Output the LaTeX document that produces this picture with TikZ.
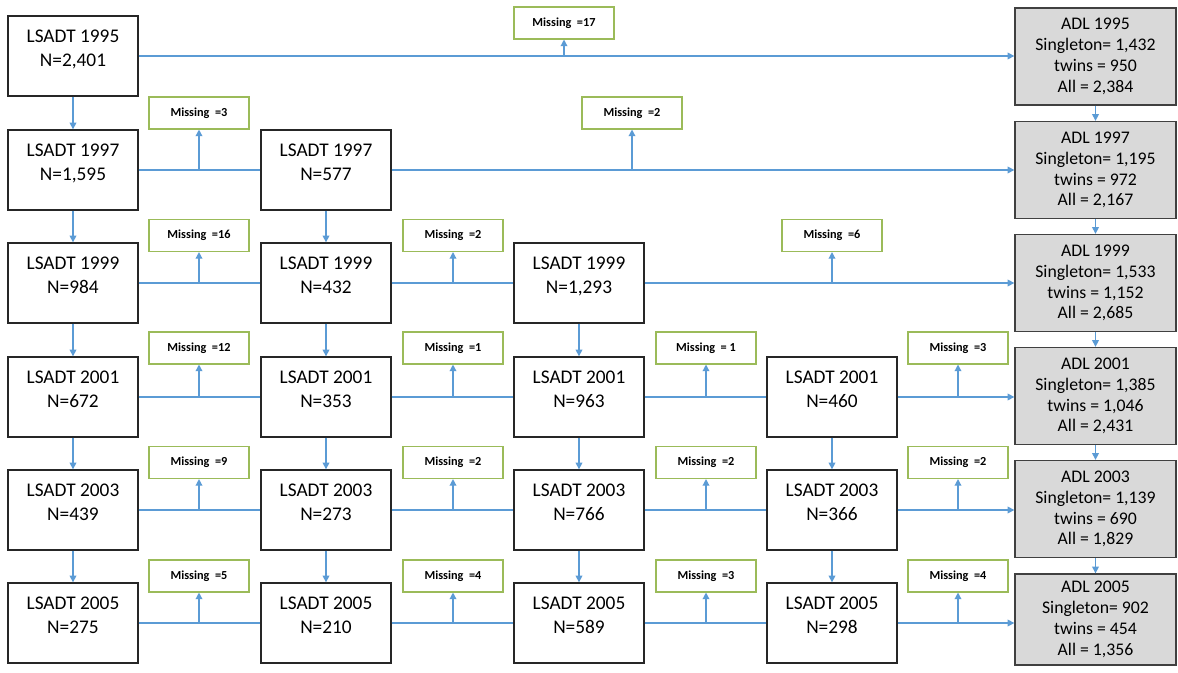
\documentclass[tikz,border=0pt]{standalone}
\usepackage{fontspec}
\setmainfont{Carlito}
\usepackage{tikz}
\usetikzlibrary{arrows.meta,positioning,calc}

\definecolor{lineblue}{HTML}{5B9BD5}
\definecolor{missgreen}{HTML}{9BBB59}
\definecolor{adlgray}{HTML}{D9D9D9}

\begin{document}
\begin{tikzpicture}[x=0.75pt, y=-0.75pt,
    wave/.style={draw=black!85, line width=1pt, fill=white,
        minimum width=97.5pt, minimum height=60pt, align=center,
        font=\fontsize{14.5}{18.2}\selectfont, text depth=12pt},
    adl/.style={draw=black!75, line width=1pt, fill=adlgray,
        minimum width=120.75pt, minimum height=72.75pt, align=center,
        font=\fontsize{13.3}{15.6}\selectfont},
    miss/.style={draw=missgreen, line width=0.8pt, fill=white,
        minimum width=75pt, minimum height=24pt,
        font=\fontsize{9.2}{11}\selectfont\bfseries},
    link/.style={draw=lineblue, line width=1pt},
    flow/.style={link, -{Triangle[length=5pt, width=5pt]}}]

    \useasboundingbox (0,0) rectangle (1178,673);

    % Wave 1995
    \node[wave] (ls11) at (73,56) {LSADT 1995\\N=2,401};
    \node[miss] (mi11) at (564,23) {Missing~ =17};
    \node[adl] (adl1) at (1095.5,56.5) {ADL 1995\\Singleton= 1,432\\twins = 950\\All = 2,384};

    % Wave 1997
    \node[wave] (ls21) at (73,170) {LSADT 1997\\N=1,595};
    \node[wave] (ls22) at (326,170) {LSADT 1997\\N=577};
    \node[miss] (mi21) at (199,113) {Missing~ =3};
    \node[miss] (mi22) at (632,113) {Missing~ =2};
    \node[adl] (adl2) at (1095.5,170) {ADL 1997\\Singleton= 1,195\\twins = 972\\All = 2,167};

    % Wave 1999
    \node[wave] (ls31) at (73,283) {LSADT 1999\\N=984};
    \node[wave] (ls32) at (326,283) {LSADT 1999\\N=432};
    \node[wave] (ls33) at (579,283) {LSADT 1999\\N=1,293};
    \node[miss] (mi31) at (199,235.5) {Missing~ =16};
    \node[miss] (mi32) at (453,235.5) {Missing~ =2};
    \node[miss] (mi33) at (832,235.5) {Missing~ =6};
    \node[adl] (adl3) at (1095.5,283) {ADL 1999\\Singleton= 1,533\\twins = 1,152\\All = 2,685};

    % Wave 2001
    \node[wave] (ls41) at (73,397) {LSADT 2001\\N=672};
    \node[wave] (ls42) at (326,397) {LSADT 2001\\N=353};
    \node[wave] (ls43) at (579,397) {LSADT 2001\\N=963};
    \node[wave] (ls44) at (832,397) {LSADT 2001\\N=460};
    \node[miss] (mi41) at (199,348) {Missing~ =12};
    \node[miss] (mi42) at (453,348) {Missing~ =1};
    \node[miss] (mi43) at (706,348) {Missing~ = 1};
    \node[miss] (mi44) at (958,348) {Missing~ =3};
    \node[adl] (adl4) at (1095.5,396) {ADL 2001\\Singleton= 1,385\\twins = 1,046\\All = 2,431};

    % Wave 2003
    \node[wave] (ls51) at (73,510) {LSADT 2003\\N=439};
    \node[wave] (ls52) at (326,510) {LSADT 2003\\N=273};
    \node[wave] (ls53) at (579,510) {LSADT 2003\\N=766};
    \node[wave] (ls54) at (832,510) {LSADT 2003\\N=366};
    \node[miss] (mi51) at (199,462.5) {Missing~ =9};
    \node[miss] (mi52) at (453,462.5) {Missing~ =2};
    \node[miss] (mi53) at (706,462.5) {Missing~ =2};
    \node[miss] (mi54) at (958,462.5) {Missing~ =2};
    \node[adl] (adl5) at (1095.5,509) {ADL 2003\\Singleton= 1,139\\twins = 690\\All = 1,829};

    % Wave 2005
    \node[wave] (ls61) at (73,623) {LSADT 2005\\N=275};
    \node[wave] (ls62) at (326,623) {LSADT 2005\\N=210};
    \node[wave] (ls63) at (579,623) {LSADT 2005\\N=589};
    \node[wave] (ls64) at (832,623) {LSADT 2005\\N=298};
    \node[miss] (mi61) at (199,576) {Missing~ =5};
    \node[miss] (mi62) at (453,576) {Missing~ =4};
    \node[miss] (mi63) at (706,576) {Missing~ =3};
    \node[miss] (mi64) at (958,576) {Missing~ =4};
    \node[adl, minimum height=68.25pt] (adl6) at (1095.5,619.5) {ADL 2005\\Singleton= 902\\twins = 454\\All = 1,356};

    % follow-up down each column
    \foreach \a/\b in {ls11/ls21, ls21/ls31, ls31/ls41, ls41/ls51, ls51/ls61,
                       ls22/ls32, ls32/ls42, ls42/ls52, ls52/ls62,
                       ls33/ls43, ls43/ls53, ls53/ls63,
                       ls44/ls54, ls54/ls64,
                       adl1/adl2, adl2/adl3, adl3/adl4, adl4/adl5, adl5/adl6}
        \draw[flow] (\a) -- (\b);

    % lines along each wave
    \foreach \a/\b in {ls21/ls22, ls31/ls32, ls32/ls33,
                       ls41/ls42, ls42/ls43, ls43/ls44,
                       ls51/ls52, ls52/ls53, ls53/ls54,
                       ls61/ls62, ls62/ls63, ls63/ls64}
        \draw[link] (\a) -- (\b);

    % into the ADL boxes
    \foreach \a/\b in {ls11/adl1, ls22/adl2, ls33/adl3, ls44/adl4, ls54/adl5, ls64/adl6}
        \draw[flow] (\a.east) -- (\a.east -| \b.west);

    % drop-outs
    \foreach \m/\s in {mi11/ls11, mi21/ls21, mi22/ls22,
                       mi31/ls31, mi32/ls32, mi33/ls33,
                       mi41/ls41, mi42/ls42, mi43/ls43, mi44/ls44,
                       mi51/ls51, mi52/ls52, mi53/ls53, mi54/ls54,
                       mi61/ls61, mi62/ls62, mi63/ls63, mi64/ls64}
        \draw[flow] (\m.south |- \s.east) -- (\m.south);
\end{tikzpicture}
\end{document}
